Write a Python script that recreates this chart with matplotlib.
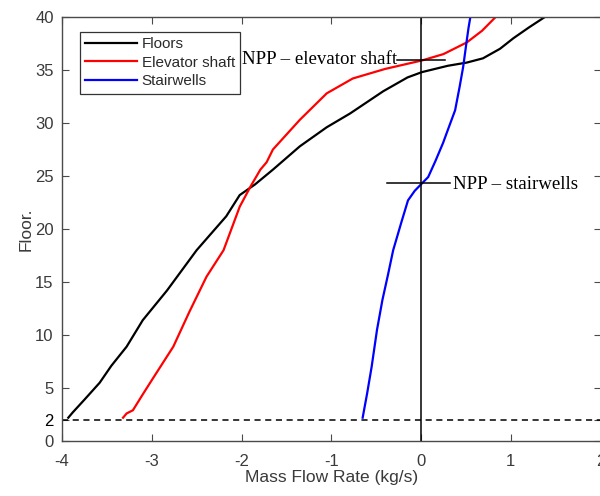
import matplotlib
matplotlib.use("Agg")
import matplotlib.pyplot as plt

# curves: (mass flow rate, floor)
floorsX = [-3.93, -3.88, -3.75, -3.58, -3.45, -3.28, -3.10, -2.83, -2.50, -2.17, -2.02, -1.85, -1.65, -1.35, -1.05, -0.79, -0.42, -0.15, 0.01, 0.30, 0.51, 0.69, 0.88, 1.03, 1.20, 1.38]
floorsY = [2.2, 2.7, 3.9, 5.5, 7.1, 8.9, 11.4, 14.2, 18.0, 21.2, 23.2, 24.2, 25.6, 27.8, 29.6, 30.9, 33.0, 34.3, 34.8, 35.4, 35.7, 36.1, 37.0, 38.0, 39.0, 40.0]

elevX = [-3.32, -3.28, -3.21, -3.10, -2.98, -2.76, -2.58, -2.39, -2.20, -2.02, -1.90, -1.79, -1.72, -1.65, -1.35, -1.05, -0.76, -0.40, 0.01, 0.25, 0.51, 0.68, 0.82]
elevY = [2.2, 2.6, 2.9, 4.4, 6.0, 8.9, 12.2, 15.5, 18.0, 22.1, 24.0, 25.6, 26.3, 27.5, 30.3, 32.8, 34.2, 35.1, 35.9, 36.5, 37.6, 38.7, 39.9]

stairX = [-0.65, -0.60, -0.55, -0.49, -0.43, -0.37, -0.31, -0.22, -0.145, -0.07, 0.01, 0.08, 0.16, 0.245, 0.31, 0.38, 0.43, 0.47, 0.51, 0.53, 0.55]
stairY = [2.2, 4.5, 7.0, 10.5, 13.3, 15.6, 18.0, 20.6, 22.7, 23.6, 24.3, 24.9, 26.4, 28.1, 29.6, 31.2, 33.4, 35.3, 37.8, 39.0, 40.0]

labels = ["Floors", "Elevator shaft", "Stairwells"]
colors = ["black", "red", "blue"]

xticks = [-4, -3, -2, -1, 0, 1, 2]
yticks = [0, 2, 5, 10, 15, 20, 25, 30, 35, 40]

# NPP markers
nppElevY = 35.9
nppStairY = 24.3

plt.rcParams["font.family"] = ["Liberation Sans", "DejaVu Sans"]
plt.rcParams["axes.unicode_minus"] = False
axisGrey = "#4a4a4a"

fig = plt.figure(figsize=(6, 4.96), dpi=100)
ax = fig.add_axes([62 / 600, 55 / 496, 538.5 / 600, 424 / 496])

datasets = [(floorsX, floorsY), (elevX, elevY), (stairX, stairY)]
i = 0
for xs, ys in datasets:
    ax.plot(xs, ys, color=colors[i], lw=1.6, label=labels[i])
    i += 1

ax.axvline(0, color="black", lw=1.1)
ax.axhline(2, color="black", lw=1.1, ls=(0, (4, 3)))

# short horizontal marks for the neutral pressure planes
ax.plot([-0.27, 0.27], [nppElevY, nppElevY], color="black", lw=1.1)
ax.plot([-0.38, 0.32], [nppStairY, nppStairY], color="black", lw=1.1)
ax.text(-0.27, nppElevY + 0.1, "NPP \u2013 elevator shaft", family="Liberation Serif",
        fontsize=13.6, ha="right", va="center")
ax.text(0.36, nppStairY - 0.1, "NPP \u2013 stairwells", family="Liberation Serif",
        fontsize=13.6, ha="left", va="center")

ax.set_xlim(-4, 2)
ax.set_ylim(0, 40)
ax.set_xticks(xticks)
ax.set_yticks(yticks)
ax.tick_params(direction="in", top=True, right=True, length=5, width=0.8,
               colors=axisGrey, labelsize=12, labelcolor="#3a3a3a")
ax.tick_params(axis="x", pad=9)
ax.tick_params(axis="y", pad=6)
for lbl in ax.get_yticklabels():
    if lbl.get_text() == "2":
        lbl.set_color("black")
for s in ax.spines.values():
    s.set_color(axisGrey)
    s.set_linewidth(1.0)

ax.set_xlabel("Mass Flow Rate (kg/s)", fontsize=12.5, color="#3a3a3a", labelpad=1)
ax.set_ylabel("Floor.", fontsize=12.5, color="#3a3a3a", labelpad=1)

leg = ax.legend(loc="upper left", bbox_to_anchor=(0.033, 0.965), fontsize=11,
                fancybox=False, framealpha=1, borderpad=0.35, labelspacing=0.3,
                handlelength=3.4, handletextpad=0.3, borderaxespad=0)
leg.get_frame().set_edgecolor("#333333")
leg.get_frame().set_linewidth(0.9)
for t in leg.get_texts():
    t.set_color("#2a2a2a")

fig.savefig("out.png", dpi=100)
